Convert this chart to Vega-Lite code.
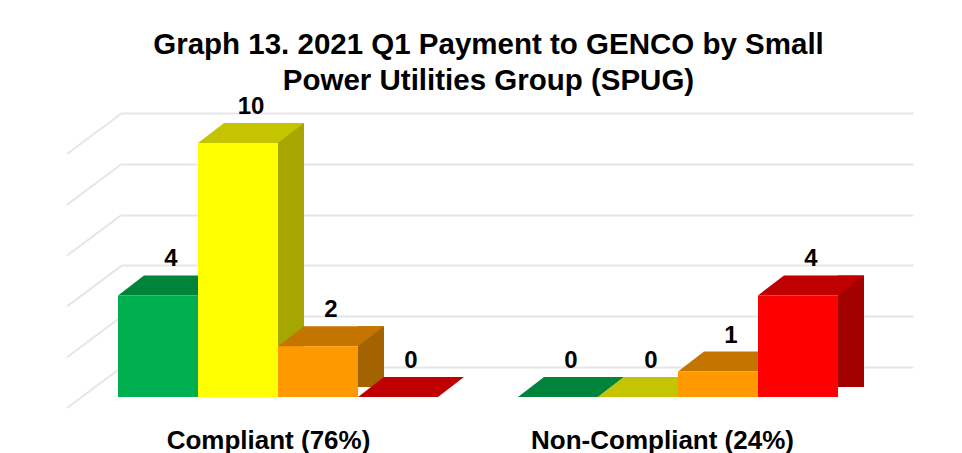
{
  "$schema": "https://vega.github.io/schema/vega-lite/v6.json",
  "width": 791,
  "height": 284,
  "autosize": {"type": "none"},
  "padding": {"left": 122, "top": 113, "right": 49, "bottom": 56},
  "background": "white",
  "config": {"view": {"stroke": null}, "font": "Liberation Sans"},
  "title": {
    "text": ["Graph 13. 2021 Q1 Payment to GENCO by Small", "Power Utilities Group (SPUG)"],
    "fontSize": 29.5,
    "fontWeight": "bold",
    "font": "Liberation Sans",
    "color": "#000000",
    "anchor": "middle",
    "frame": "group",
    "dx": -29,
    "offset": -2,
    "lineHeight": 36
  },
  "datasets": {
    "bars": [
      {"group": "Compliant (76%)", "status": "Green", "key": "Compliant Green", "value": 4},
      {"group": "Compliant (76%)", "status": "Yellow", "key": "Compliant Yellow", "value": 10},
      {"group": "Compliant (76%)", "status": "Orange", "key": "Compliant Orange", "value": 2},
      {"group": "Compliant (76%)", "status": "Red", "key": "Compliant Red", "value": 0},
      {"group": "Non-Compliant (24%)", "status": "Green", "key": "Non-Compliant Green", "value": 0},
      {"group": "Non-Compliant (24%)", "status": "Yellow", "key": "Non-Compliant Yellow", "value": 0},
      {"group": "Non-Compliant (24%)", "status": "Orange", "key": "Non-Compliant Orange", "value": 1},
      {"group": "Non-Compliant (24%)", "status": "Red", "key": "Non-Compliant Red", "value": 4}
    ],
    "grid": [{"v": 0}, {"v": 2}, {"v": 4}, {"v": 6}, {"v": 8}, {"v": 10}],
    "groups": [{"group": "Compliant (76%)"}, {"group": "Non-Compliant (24%)"}]
  },
  "resolve": {
    "scale": {"x": "independent", "y": "independent", "color": "independent"},
    "axis": {"x": "independent", "y": "independent"}
  },
  "layer": [
    {
      "data": {"name": "grid"},
      "mark": {"type": "rule", "x2Offset": -55, "y2Offset": 41, "color": "#e6e6e6", "strokeWidth": 2},
      "encoding": {
        "x": {"datum": 0, "type": "quantitative", "scale": {"domain": [0, 1]}, "axis": null},
        "x2": {"datum": 0},
        "y": {
          "field": "v",
          "type": "quantitative",
          "scale": {"domain": [-1.1811, 10], "nice": false, "zero": false},
          "axis": {"grid": true, "values": [0, 2, 4, 6, 8, 10], "labels": false, "ticks": false, "domain": false, "title": null, "gridColor": "#e6e6e6", "gridWidth": 2}
        },
        "y2": {"field": "v"}
      }
    },
    {
      "data": {"name": "bars"},
      "resolve": {"scale": {"color": "independent"}},
      "layer": [
        {
          "transform": [{"filter": "datum.value > 0"}],
          "mark": {"type": "bar", "width": 26, "xOffset": 49, "yOffset": -20, "y2Offset": -10},
          "encoding": {
            "x": {"field": "key", "type": "nominal", "scale": {"domain": ["Compliant Green", "Compliant Yellow", "Compliant Orange", "Compliant Red", "gap", "Non-Compliant Green", "Non-Compliant Yellow", "Non-Compliant Orange", "Non-Compliant Red"], "paddingInner": 0, "paddingOuter": 0.44375, "align": 0}, "axis": null},
            "y": {"field": "value", "type": "quantitative", "scale": {"domain": [0, 11.18], "nice": false, "zero": false}, "axis": null},
            "y2": {"datum": 0},
            "color": {"field": "status", "type": "nominal", "scale": {"domain": ["Green", "Yellow", "Orange", "Red"], "range": ["#006b30", "#a6a600", "#a36300", "#a30000"]}, "legend": null}
          }
        },
        {
          "mark": {"type": "point", "shape": "M-1,0.1887L0.5094,0.1887L1,-0.1887L-0.5094,-0.1887Z", "size": 11236, "filled": true, "opacity": 1, "strokeWidth": 0, "xOffset": 9, "yOffset": -10},
          "encoding": {
            "x": {"field": "key", "type": "nominal", "scale": {"domain": ["Compliant Green", "Compliant Yellow", "Compliant Orange", "Compliant Red", "gap", "Non-Compliant Green", "Non-Compliant Yellow", "Non-Compliant Orange", "Non-Compliant Red"], "paddingInner": 0, "paddingOuter": 0.44375, "align": 0}, "axis": null},
            "y": {"field": "value", "type": "quantitative", "scale": {"domain": [0, 11.18], "nice": false, "zero": false}, "axis": null},
            "color": {"field": "status", "type": "nominal", "scale": {"domain": ["Green", "Yellow", "Orange", "Red"], "range": ["#00843c", "#c4c400", "#c47500", "#c00000"]}, "legend": null}
          }
        },
        {
          "mark": {"type": "bar", "xOffset": -4},
          "encoding": {
            "x": {"field": "key", "type": "nominal", "scale": {"domain": ["Compliant Green", "Compliant Yellow", "Compliant Orange", "Compliant Red", "gap", "Non-Compliant Green", "Non-Compliant Yellow", "Non-Compliant Orange", "Non-Compliant Red"], "paddingInner": 0, "paddingOuter": 0.44375, "align": 0}, "axis": null},
            "y": {"field": "value", "type": "quantitative", "scale": {"domain": [0, 11.18], "nice": false, "zero": false}, "axis": null},
            "color": {"field": "status", "type": "nominal", "scale": {"domain": ["Green", "Yellow", "Orange", "Red"], "range": ["#00b050", "#ffff00", "#ff9900", "#ff0000"]}, "legend": null}
          }
        },
        {
          "mark": {"type": "text", "xOffset": 9, "dy": -29, "fontSize": 24, "fontWeight": "bold", "font": "Liberation Sans", "baseline": "alphabetic", "align": "center", "color": "#000000"},
          "encoding": {
            "x": {"field": "key", "type": "nominal", "scale": {"domain": ["Compliant Green", "Compliant Yellow", "Compliant Orange", "Compliant Red", "gap", "Non-Compliant Green", "Non-Compliant Yellow", "Non-Compliant Orange", "Non-Compliant Red"], "paddingInner": 0, "paddingOuter": 0.44375, "align": 0}, "axis": null},
            "y": {"field": "value", "type": "quantitative", "scale": {"domain": [0, 11.18], "nice": false, "zero": false}, "axis": null},
            "text": {"field": "value", "type": "quantitative"}
          }
        }
      ]
    },
    {
      "data": {"name": "groups"},
      "mark": {"type": "point", "opacity": 0},
      "encoding": {
        "x": {
          "field": "group",
          "type": "nominal",
          "scale": {"type": "point", "domain": ["Compliant (76%)", "Non-Compliant (24%)"], "padding": 0.5038, "align": 0.3678},
          "axis": {"orient": "bottom", "title": null, "domain": false, "ticks": false, "labelFontSize": 26, "labelFontWeight": "bold", "labelFont": "Liberation Sans", "labelColor": "#000000", "labelPadding": 30, "labelAngle": 0, "labelLimit": 0}
        }
      }
    }
  ]
}
